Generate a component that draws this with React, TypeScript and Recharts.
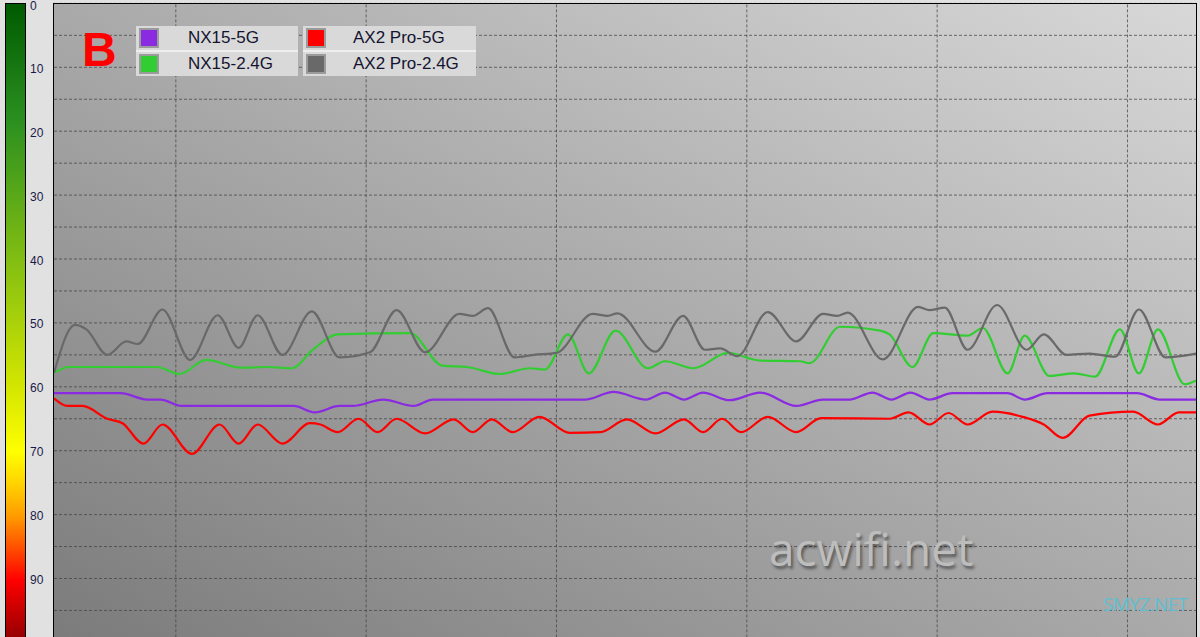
import { LineChart, Line, XAxis, YAxis, CartesianGrid, Legend, ReferenceLine } from 'recharts';

// signal level axis (shown as positive dBm, 0 on top)
const levelTicks = [0, 5, 10, 15, 20, 25, 30, 35, 40, 45, 50, 55, 60, 65, 70, 75, 80, 85, 90, 95, 100];
const timeTicks = [6.4, 16.4, 26.4, 36.4, 46.4, 56.4];

const seriesNames = ['NX15-5G', 'NX15-2.4G', 'AX2 Pro-5G', 'AX2 Pro-2.4G'];
const seriesColors = ['#8a2be2', '#32cd32', '#ff0000', '#696969'];

const nx5gTime = [0, 3.5, 4.9, 5.6, 6.7, 12.6, 13.7, 15.0, 15.7, 17.3, 18.9, 19.9, 27.9, 29.4, 31.1, 32.1, 33.1, 34.1, 35.5, 37.1, 39.0, 40.4, 41.8, 43.0, 44.0, 45.0, 46.0, 47.2, 50.1, 51.0, 52.2, 56.9, 58.1, 60];
const nx5gLevel = [61, 61, 62, 62, 63, 63, 64, 63, 63, 62, 63, 62, 62, 60.8, 62, 60.9, 62, 60.9, 62.1, 60.9, 63, 62, 62, 60.9, 62, 60.9, 62, 61, 61, 62, 61, 61, 62, 62];

const nx24Time = [0, 0.8, 5.4, 6.6, 8.0, 9.8, 11.2, 12.5, 13.6, 14.9, 18.7, 20.4, 21.7, 23.4, 25.0, 25.8, 27.0, 28.1, 29.5, 31.2, 32.1, 33.6, 35.4, 37.1, 39.2, 39.7, 41.3, 43.4, 43.9, 45.1, 46.2, 48.0, 48.8, 50.1, 51.0, 52.3, 53.6, 54.7, 56.0, 57.0, 58.0, 59.4, 60];
const nx24Level = [57.8, 56.9, 56.9, 58, 55.8, 57, 56.9, 57.1, 54.2, 51.8, 51.6, 56.7, 56.9, 58, 57.1, 57.3, 51.8, 57.9, 51.2, 57.1, 56, 57.1, 54.7, 55.9, 56, 56.3, 50.6, 51.2, 51.8, 56.9, 51.6, 52, 50.8, 57.9, 52, 58.3, 57.9, 58.4, 51, 57.9, 51, 59.6, 59];

const ax5gTime = [0, 0.7, 1.5, 2.8, 3.6, 4.7, 5.7, 7.25, 8.7, 9.7, 10.7, 12.0, 13.45, 14.0, 14.9, 16.0, 17.0, 18.0, 19.5, 21.0, 22.0, 23.0, 24.1, 25.5, 27.1, 28.7, 30.1, 31.6, 33.1, 34.1, 35.1, 36.1, 37.5, 39.0, 40.3, 43.9, 44.9, 46.0, 47.0, 48.0, 49.3, 50.9, 52.0, 53.0, 54.4, 56.7, 58.0, 59.1, 60];
const ax5gLevel = [61.8, 63, 63, 65, 65.7, 68.9, 65.9, 70.5, 65.9, 68.9, 65.9, 68.9, 65.7, 65.9, 67.1, 65, 67.1, 65, 67.3, 65.1, 67.1, 65.1, 67.1, 64.7, 67.2, 67.1, 65.1, 67.3, 65.1, 67.1, 65, 67.1, 64.7, 67.1, 64.9, 65, 64, 65.9, 64.1, 65.9, 63.9, 64.7, 65.9, 68, 64.5, 63.9, 65.9, 64, 64];

const ax24Time = [0, 1.1, 1.7, 2.8, 3.8, 4.4, 5.7, 7.15, 8.6, 9.7, 10.7, 12.0, 13.55, 15.0, 16.6, 18.0, 19.5, 21.3, 22.0, 22.8, 24.2, 25.2, 26.4, 28.3, 29.1, 29.6, 31.6, 33.05, 34.2, 35.0, 35.9, 37.5, 39.0, 40.4, 41.15, 41.7, 43.55, 45.4, 46.0, 46.8, 48.0, 49.55, 51.1, 52.0, 53.2, 54.4, 55.75, 57.0, 58.4, 60];
const ax24Level = [57.8, 50.3, 51, 55, 52.9, 53.3, 47.9, 55.8, 48.8, 53.9, 48.8, 55, 48.2, 55.4, 54.6, 48, 54.6, 48.6, 48.9, 47.7, 55.4, 55, 54.7, 48.6, 48.9, 48.5, 54.5, 48.9, 54.2, 54, 55.2, 48.3, 52.9, 48.6, 48.9, 48.4, 55.7, 47.5, 48, 47.6, 54.2, 47.2, 54.2, 51.8, 55, 54.8, 55.3, 47.9, 55.4, 54.8];

const toPoints = (time: number[], level: number[]) => time.map((t, i) => ({ t, v: level[i] }));

const seriesData = [
  toPoints(nx5gTime, nx5gLevel),
  toPoints(nx24Time, nx24Level),
  toPoints(ax5gTime, ax5gLevel),
  toPoints(ax24Time, ax24Level),
];

const LevelTick = (props: any) => {
  const { y, payload } = props;
  if (payload.value % 10 !== 0 || payload.value >= 100) return null;
  return (
    <text x={30} y={y} dy={payload.value === 0 ? 7 : 5.5} fontSize={12} fill="#1a1a48" fontFamily="'Liberation Sans', Arial, sans-serif">
      {payload.value}
    </text>
  );
};

const LegendBox = (props: any) => {
  const items = [...(props.payload ?? [])].sort(
    (a: any, b: any) => seriesNames.indexOf(a.value) - seriesNames.indexOf(b.value)
  );
  return (
    <div
      style={{
        display: 'grid',
        gridTemplateColumns: '162px 173px',
        gridTemplateRows: '24px 26px',
        gridAutoFlow: 'column',
        columnGap: 5,
        fontFamily: "'Liberation Sans', Arial, sans-serif",
        fontSize: 17,
        color: '#141430',
      }}>
      {items.map((item: any, i: number) => (
        <div
          key={item.value}
          style={{
            position: 'relative',
            background: '#d9d9d9',
            borderTop: i % 2 === 1 ? '2px solid #eeeeee' : 'none',
            boxSizing: 'border-box',
          }}>
          <div
            style={{
              position: 'absolute',
              left: 3,
              top: 2,
              width: 20,
              height: 20,
              boxSizing: 'border-box',
              border: '2px solid #9b9b9b',
              background: item.color,
            }}
          />
          <span style={{ position: 'absolute', left: i < 2 ? 52 : 50, top: 3, lineHeight: '18px' }}>{item.value}</span>
        </div>
      ))}
    </div>
  );
};

export default function App() {
  return (
    <div
      style={{
        position: 'fixed',
        left: 0,
        top: 0,
        width: 1200,
        height: 637,
        overflow: 'hidden',
        background: '#e1e1e1',
      }}>
      {/* colour scale bar */}
      <div
        style={{
          position: 'absolute',
          left: 5,
          top: 3,
          width: 21,
          height: 642,
          boxSizing: 'border-box',
          border: '1px solid #000',
          background:
            'linear-gradient(to bottom, #005a00 0%, #2a8f20 18%, #8ec410 43%, #d4e600 60%, #ffff00 70%, #ffd200 75%, #ff9c00 80%, #ff2000 88%, #ff0000 90%, #8a0000 100%)',
        }}
      />
      <LineChart width={1200} height={650} margin={{ top: 3.4, right: 4, bottom: 6.6, left: 0 }}>
        <defs>
          <linearGradient id="plotBg" x1="0" y1="1" x2="1" y2="0">
            <stop offset="0%" stopColor="#7b7b7b" />
            <stop offset="100%" stopColor="#d8d8d8" />
          </linearGradient>
        </defs>
        <CartesianGrid
          fill="url(#plotBg)"
          fillOpacity={1}
          stroke="#444"
          strokeDasharray="3 2"
          strokeOpacity={0.75}
          vertical={false}
        />
        <XAxis
          type="number"
          dataKey="t"
          domain={[0, 60]}
          ticks={timeTicks}
          allowDataOverflow
          height={1}
          tick={false}
          axisLine={false}
          tickLine={false}
        />
        <YAxis
          type="number"
          domain={[0, 100]}
          reversed
          ticks={levelTicks}
          interval={0}
          width={54}
          axisLine={false}
          tickLine={false}
          tick={<LevelTick />}
        />
        {timeTicks.map((t) => (
          <ReferenceLine key={t} x={t} stroke="#444" strokeOpacity={0.75} strokeDasharray="3 2" />
        ))}
        <Legend
          layout="vertical"
          align="center"
          verticalAlign="middle"
          content={<LegendBox />}
          wrapperStyle={{ left: 136, top: 26, width: 'auto', height: 'auto' }}
        />
        {seriesData.map((data, i) => (
          <Line
            key={seriesNames[i]}
            data={data}
            dataKey="v"
            name={seriesNames[i]}
            type="monotone"
            stroke={seriesColors[i]}
            strokeWidth={2.2}
            dot={false}
            isAnimationActive={false}
          />
        ))}
      </LineChart>
      {/* plot frame */}
      <div
        style={{
          position: 'absolute',
          left: 53,
          top: 3,
          width: 1144,
          height: 660,
          boxSizing: 'border-box',
          borderLeft: '1px solid #000',
          borderTop: '1px solid #000',
          borderRight: '1px solid #000',
          pointerEvents: 'none',
        }}
      />
      <div
        style={{
          position: 'absolute',
          left: 82,
          top: 24,
          fontFamily: "'Liberation Sans', Arial, sans-serif",
          fontWeight: 'bold',
          fontSize: 48,
          lineHeight: '52px',
          color: '#ff0000',
        }}>
        B
      </div>
      <div
        style={{
          position: 'absolute',
          left: 769,
          top: 520,
          fontFamily: "'Open Sans', sans-serif",
          fontSize: 46,
          lineHeight: '56px',
          color: '#bdbdbd',
          textShadow: '2px 3px 3px rgba(0,0,0,0.45)',
        }}>
        acwifi.net
      </div>
      <div
        style={{
          position: 'absolute',
          left: 1103,
          top: 592,
          fontFamily: "'Open Sans', sans-serif",
          fontSize: 19,
          lineHeight: '24px',
          letterSpacing: -0.6,
          color: '#5fbfd1',
        }}>
        SMYZ.NET
      </div>
    </div>
  );
}
